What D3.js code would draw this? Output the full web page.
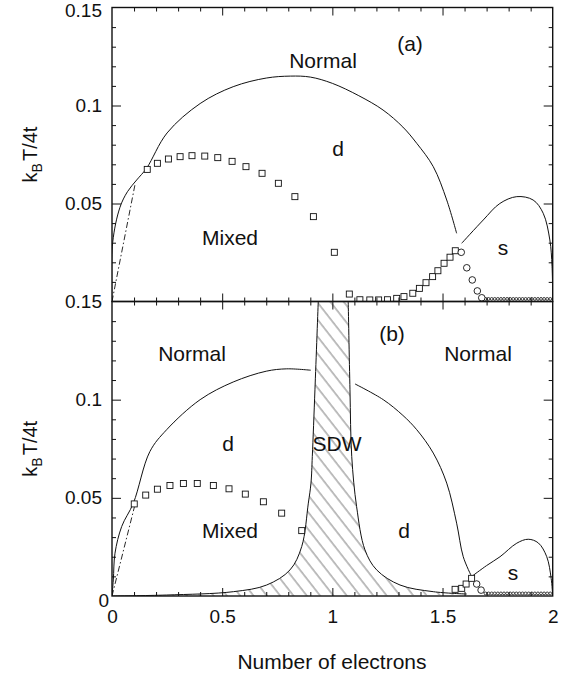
<!DOCTYPE html>
<html>
<head>
<meta charset="utf-8">
<script src="https://cdn.jsdelivr.net/npm/d3@7"></script>
<style>
  body { margin: 0; background: #fff; }
  text { font-family: "Liberation Sans", Arial, sans-serif; fill: #111; }
</style>
</head>
<body>
<svg width="562" height="677"></svg>
<script>
var svg = d3.select('svg');

// ---- donnees ----
// panneau (a)
const a_dCurve = [[0,0],[0.003,0.03],[0.036,0.048],[0.07,0.056],[0.112,0.062],[0.157,0.068],[0.25,0.086],
  [0.40,0.101],[0.55,0.1096],[0.70,0.114],[0.81,0.115],[0.90,0.1145],[1.0,0.1113],[1.12,0.105],
  [1.23,0.0977],[1.32,0.089],[1.383,0.0807],[1.458,0.0688],[1.519,0.0518],[1.564,0.0348]];
const a_sCurve = [[1.587,0.0297],[1.685,0.0416],[1.76,0.050],[1.837,0.0535],[1.911,0.0518],
  [1.957,0.045],[1.987,0.0314],[1.997,0.018],[2.0,0.0]];
const a_dashDot = [[0,0],[0.105,0.06]];
const a_squares = [[0.160,0.0674],[0.206,0.0705],[0.256,0.0727],[0.309,0.0739],[0.363,0.0744],
  [0.421,0.0742],[0.480,0.0734],[0.545,0.0715],[0.608,0.0688],[0.681,0.0654],[0.755,0.0603],
  [0.830,0.0535],[0.914,0.0433],[1.009,0.0251],[1.077,0.0038],[1.125,0.0009],[1.17,0.0008],
  [1.21,0.0008],[1.25,0.0009],[1.292,0.0016],[1.325,0.0025],[1.365,0.0042],[1.395,0.0067],
  [1.425,0.0096],[1.455,0.0127],[1.479,0.0157],[1.507,0.0195],[1.534,0.0226],[1.558,0.0259]];
const a_circles = [[1.585,0.0251],[1.610,0.0172],[1.635,0.011],[1.658,0.0054],[1.678,0.0019]];
const a_tinyX = [1.695,1.709,1.723,1.737,1.751,1.765,1.779,1.793,1.807,1.821,1.835,1.849,1.863,
  1.877,1.891,1.905,1.919,1.933,1.947,1.961,1.975,1.989];

// panneau (b)
const b_dLeft = [[0,0],[0.006,0.0082],[0.0136,0.0218],[0.044,0.0354],[0.097,0.0473],[0.172,0.0736],
  [0.248,0.0847],[0.40,0.1],[0.55,0.109],[0.70,0.1145],[0.793,0.1157],[0.902,0.115]];
const b_dRight = [[1.103,0.108],[1.231,0.1],[1.32,0.092],[1.383,0.0847],[1.458,0.0728],
  [1.519,0.0575],[1.564,0.0371],[1.594,0.020],[1.632,0.0099]];
const b_sCurve = [[1.632,0.0099],[1.70,0.0155],[1.761,0.020],[1.837,0.0269],[1.889,0.0289],
  [1.935,0.027],[1.973,0.020],[1.993,0.009],[2.0,0.0]];
const b_sdwLeft = [[0.936,0.15],[0.921,0.105],[0.909,0.071],[0.903,0.0575],[0.891,0.0473],
  [0.861,0.0252],[0.808,0.0133],[0.702,0.0056],[0.551,0.0022],[0.248,0.0005],[0,0]];
const b_sdwRight = [[1.072,0.15],[1.080,0.105],[1.088,0.071],[1.110,0.0456],[1.148,0.0235],
  [1.201,0.0133],[1.307,0.0056],[1.458,0.0022],[1.61,0.001]];
const b_dashDot = [[0,0],[0.104,0.0464]];
const b_squares = [[0.101,0.0469],[0.153,0.0514],[0.206,0.0544],[0.263,0.0563],[0.324,0.0573],
  [0.387,0.0573],[0.460,0.0563],[0.531,0.0546],[0.605,0.0519],[0.687,0.048],[0.770,0.0422],
  [0.861,0.0333],[1.557,0.0034],[1.587,0.0039],[1.607,0.0061],[1.632,0.009]];
const b_circles = [[1.655,0.0061],[1.675,0.003]];
const b_tinyX = [1.695,1.709,1.723,1.737,1.751,1.765,1.779,1.793,1.807,1.821,1.835,1.849,1.863,
  1.877,1.891,1.905,1.919,1.933,1.947,1.961,1.975,1.989];

// etiquettes
const xTickLabels = [0, 0.5, 1, 1.5, 2];
const aYTickLabels = [0.05, 0.1, 0.15];
const bYTickLabels = [0, 0.05, 0.1, 0.15];
const aTexts = [["Normal",323,60],["(a)",410,43],["d",338,148],["Mixed",230,237],["s",503,247]];
const bTexts = [["(b)",392,333],["Normal",192,353],["Normal",478,353],["d",228,443],["SDW",337,443],
  ["Mixed",230,530],["d",404,530],["s",513,572]];

// ---- echelles ----
const left = 112, right = 552.7;
const aTop = 7.5, mid = 301.5, bBottom = 596;
const x = d3.scaleLinear().domain([0, 2]).range([left, right]);
const yA = d3.scaleLinear().domain([0, 0.15]).range([mid, aTop]);
const yB = d3.scaleLinear().domain([0, 0.15]).range([bBottom, mid]);

// motif hachure
const defs = svg.append('defs');
defs.append('pattern')
  .attr('id', 'hatch').attr('patternUnits', 'userSpaceOnUse')
  .attr('width', 10.5).attr('height', 10)
  .attr('patternTransform', 'rotate(-38)')
  .append('line')
  .attr('x1', 1).attr('y1', 0).attr('x2', 1).attr('y2', 10)
  .attr('stroke', '#222').attr('stroke-width', 0.6);

defs.append('clipPath').attr('id', 'clipA').append('rect')
  .attr('x', left).attr('y', aTop).attr('width', right - left).attr('height', mid - aTop);
defs.append('clipPath').attr('id', 'clipB').append('rect')
  .attr('x', left).attr('y', mid).attr('width', right - left).attr('height', bBottom - mid);

function drawPanel(y, clip, p) {
  const g = svg.append('g').attr('clip-path', `url(#${clip})`);
  const line = d3.line().x(d => x(d[0])).y(d => y(d[1])).curve(d3.curveCatmullRom.alpha(0.5));

  if (p.sdwLeft) {
    const poly = p.sdwLeft.concat(p.sdwRight.slice().reverse());
    g.append('path').attr('d', line(poly) + 'Z')
      .attr('fill', 'url(#hatch)').attr('stroke', 'none');
    g.append('path').attr('d', line(p.sdwLeft)).attr('fill', 'none')
      .attr('stroke', '#111').attr('stroke-width', 1);
    g.append('path').attr('d', line(p.sdwRight)).attr('fill', 'none')
      .attr('stroke', '#111').attr('stroke-width', 1);
  }

  p.curves.forEach(c => {
    g.append('path').attr('d', line(c)).attr('fill', 'none')
      .attr('stroke', '#111').attr('stroke-width', 1);
  });

  g.append('path').attr('d', d3.line().x(d => x(d[0])).y(d => y(d[1]))(p.dashDot))
    .attr('fill', 'none').attr('stroke', '#111').attr('stroke-width', 0.9)
    .attr('stroke-dasharray', '6,2.5,1.5,2.5');

  g.selectAll('.tiny').data(p.tinyX).enter().append('circle')
    .attr('cx', d => x(d)).attr('cy', y(0) - 2.6).attr('r', 1.4)
    .attr('fill', 'white').attr('stroke', '#111').attr('stroke-width', 0.8);

  g.selectAll('.sq').data(p.squares).enter().append('rect')
    .attr('x', d => x(d[0]) - 3).attr('y', d => y(d[1]) - 3)
    .attr('width', 6).attr('height', 6)
    .attr('fill', 'white').attr('stroke', '#111').attr('stroke-width', 0.9);

  g.selectAll('.ci').data(p.circles).enter().append('circle')
    .attr('cx', d => x(d[0])).attr('cy', d => y(d[1])).attr('r', 3.3)
    .attr('fill', 'white').attr('stroke', '#111').attr('stroke-width', 0.9);

  p.texts.forEach(t => {
    svg.append('text').attr('x', t[1]).attr('y', t[2] + 7.5)
      .attr('text-anchor', 'middle').style('font-size', '21px').text(t[0]);
  });
}

drawPanel(yA, 'clipA', {
  curves: [a_dCurve, a_sCurve], dashDot: a_dashDot, squares: a_squares,
  circles: a_circles, tinyX: a_tinyX, texts: aTexts
});
drawPanel(yB, 'clipB', {
  curves: [b_dLeft, b_dRight, b_sCurve], dashDot: b_dashDot, squares: b_squares,
  circles: b_circles, tinyX: b_tinyX, texts: bTexts,
  sdwLeft: b_sdwLeft, sdwRight: b_sdwRight
});

// ---- axes (graduations vers l'interieur) ----
const xMinor = d3.range(0.1, 2, 0.1).filter(v => Math.abs(v * 2 - Math.round(v * 2)) > 1e-6);
const xMajor = [0.5, 1, 1.5];
const yMinor = d3.range(0.01, 0.15, 0.01).filter(v => Math.abs(v * 20 - Math.round(v * 20)) > 1e-6);
const yMajor = [0.05, 0.1];

function ticks(axis, tv, size, tr) {
  const g = svg.append('g').attr('transform', tr)
    .call(axis.tickValues(tv).tickSize(-size).tickFormat(''));
  g.select('.domain').remove();
  g.selectAll('line').attr('stroke', '#111').attr('stroke-width', 1);
}

[[yA, aTop, mid], [yB, mid, bBottom]].forEach(([y, t, b]) => {
  ticks(d3.axisBottom(x), xMinor, 4, `translate(0,${b})`);
  ticks(d3.axisBottom(x), xMajor, 8, `translate(0,${b})`);
  ticks(d3.axisTop(x), xMinor, 4, `translate(0,${t})`);
  ticks(d3.axisTop(x), xMajor, 8, `translate(0,${t})`);
  ticks(d3.axisLeft(y), yMinor, 4, `translate(${left},0)`);
  ticks(d3.axisLeft(y), yMajor, 9, `translate(${left},0)`);
  ticks(d3.axisRight(y), yMinor, 4, `translate(${right},0)`);
  ticks(d3.axisRight(y), yMajor, 9, `translate(${right},0)`);
});

// cadres
svg.append('rect').attr('x', left).attr('y', aTop).attr('width', right - left).attr('height', mid - aTop)
  .attr('fill', 'none').attr('stroke', '#111').attr('stroke-width', 1.4);
svg.append('rect').attr('x', left).attr('y', mid).attr('width', right - left).attr('height', bBottom - mid)
  .attr('fill', 'none').attr('stroke', '#111').attr('stroke-width', 1.4);

// etiquettes des graduations
function labels(axis, tv, tr) {
  const g = svg.append('g').attr('transform', tr)
    .call(axis.tickValues(tv).tickSize(0).tickPadding(10).tickFormat(d => String(d)));
  g.select('.domain').remove();
  g.selectAll('text').style('font-size', '19px')
    .style('font-family', '"Liberation Sans", Arial, sans-serif').attr('fill', '#111');
  return g;
}
const al = labels(d3.axisLeft(yA), aYTickLabels, `translate(${left},0)`);
al.selectAll('.tick').filter(d => d === 0.15).select('text').attr('dy', '0.45em');
const bl = labels(d3.axisLeft(yB), bYTickLabels, `translate(${left},0)`);
bl.selectAll('.tick').filter(d => d === 0).select('text').attr('x', -3).attr('dy', '0.55em');
labels(d3.axisBottom(x), xTickLabels, `translate(0,${bBottom})`)
  .selectAll('text').attr('dy', '0.9em');

// titres des axes
[[yA, (aTop + mid) / 2], [yB, (mid + bBottom) / 2]].forEach(([y, cy]) => {
  const t = svg.append('text').attr('transform', `translate(37,${cy}) rotate(-90)`)
    .attr('text-anchor', 'middle').style('font-size', '20px');
  t.append('tspan').text('k');
  t.append('tspan').attr('dy', 5).style('font-size', '14px').text('B');
  t.append('tspan').attr('dy', -5).attr('dx', 2).text('T/4t');
});

svg.append('text').attr('x', 332).attr('y', 669).attr('text-anchor', 'middle')
  .style('font-size', '21px').text('Number of electrons');
</script>
</body>
</html>
